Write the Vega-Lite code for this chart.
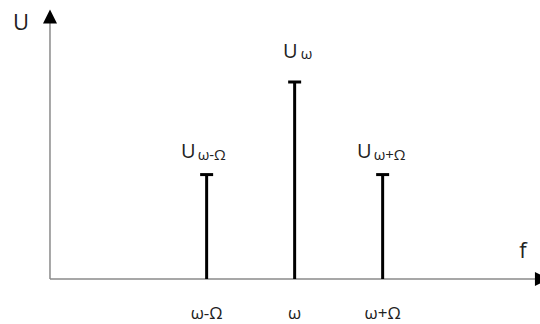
{
  "$schema": "https://vega.github.io/schema/vega-lite/v6.json",
  "width": 540,
  "height": 324,
  "autosize": "none",
  "padding": 0,
  "background": "white",
  "config": {"view": {"stroke": null}, "font": "Open Sans", "text": {"font": "Open Sans"}},
  "datasets": {
    "lines": [
      {"label": "ω-Ω", "sub": "ω-Ω", "f": 1.78, "U": 0.53},
      {"label": "ω", "sub": "ω", "f": 2.78, "U": 1.0},
      {"label": "ω+Ω", "sub": "ω+Ω", "f": 3.78, "U": 0.53}
    ],
    "axes": [
      {"axis": "U", "f0": 0, "U0": 0, "f1": 0, "U1": 1.332},
      {"axis": "f", "f0": 0, "U0": 0, "f1": 5.59, "U1": 0}
    ]
  },
  "encoding": {
    "x": {"type": "quantitative", "scale": {"domain": [-0.568, 5.568], "nice": false, "zero": false}, "axis": null},
    "y": {"type": "quantitative", "scale": {"domain": [-0.2284, 1.4162], "nice": false, "zero": false}, "axis": null}
  },
  "layer": [
    {
      "data": {"name": "axes"},
      "mark": {"type": "rule", "color": "#8a8a8a", "strokeWidth": 1.5},
      "encoding": {
        "x": {"field": "f0", "type": "quantitative"},
        "y": {"field": "U0", "type": "quantitative"},
        "x2": {"field": "f1"},
        "y2": {"field": "U1"}
      }
    },
    {
      "data": {"name": "axes"},
      "mark": {"type": "point", "filled": true, "color": "black", "opacity": 1, "size": 196},
      "encoding": {
        "x": {"field": "f1", "type": "quantitative"},
        "y": {"field": "U1", "type": "quantitative"},
        "shape": {"field": "axis", "type": "nominal", "scale": {"domain": ["U", "f"], "range": ["M-1,1L0,-1L1,1Z", "M-1,-1L1,0L-1,1Z"]}, "legend": null}
      }
    },
    {
      "data": {"name": "axes"},
      "transform": [{"filter": "datum.axis === 'U'"}],
      "mark": {"type": "text", "fontSize": 22, "align": "center", "baseline": "alphabetic", "dx": -29, "dy": 13, "color": "#222"},
      "encoding": {
        "x": {"field": "f1", "type": "quantitative"},
        "y": {"field": "U1", "type": "quantitative"},
        "text": {"field": "axis"}
      }
    },
    {
      "data": {"name": "axes"},
      "transform": [{"filter": "datum.axis === 'f'"}],
      "mark": {"type": "text", "fontSize": 22, "align": "center", "baseline": "alphabetic", "dx": -19, "dy": -21, "color": "#222"},
      "encoding": {
        "x": {"field": "f1", "type": "quantitative"},
        "y": {"field": "U1", "type": "quantitative"},
        "text": {"field": "axis"}
      }
    },
    {
      "data": {"name": "lines"},
      "mark": {"type": "rule", "color": "black", "strokeWidth": 3},
      "encoding": {
        "x": {"field": "f", "type": "quantitative"},
        "y": {"field": "U", "type": "quantitative"},
        "y2": {"datum": 0}
      }
    },
    {
      "data": {"name": "lines"},
      "mark": {"type": "tick", "orient": "horizontal", "color": "black", "size": 13, "thickness": 3, "opacity": 1},
      "encoding": {
        "x": {"field": "f", "type": "quantitative"},
        "y": {"field": "U", "type": "quantitative"}
      }
    },
    {
      "data": {"name": "lines"},
      "transform": [{"filter": "datum.label !== 'ω'"}],
      "mark": {"type": "text", "text": "U", "fontSize": 20, "align": "right", "baseline": "alphabetic", "dx": -11, "dy": -17, "color": "#222"},
      "encoding": {
        "x": {"field": "f", "type": "quantitative"},
        "y": {"field": "U", "type": "quantitative"}
      }
    },
    {
      "data": {"name": "lines"},
      "transform": [{"filter": "datum.label !== 'ω'"}],
      "mark": {"type": "text", "fontSize": 15, "align": "left", "baseline": "alphabetic", "dx": -9, "dy": -15, "color": "#222"},
      "encoding": {
        "x": {"field": "f", "type": "quantitative"},
        "y": {"field": "U", "type": "quantitative"},
        "text": {"field": "sub"}
      }
    },
    {
      "data": {"name": "lines"},
      "transform": [{"filter": "datum.label === 'ω'"}],
      "mark": {"type": "text", "text": "U", "fontSize": 20, "align": "right", "baseline": "alphabetic", "dx": 3, "dy": -24, "color": "#222"},
      "encoding": {
        "x": {"field": "f", "type": "quantitative"},
        "y": {"field": "U", "type": "quantitative"}
      }
    },
    {
      "data": {"name": "lines"},
      "transform": [{"filter": "datum.label === 'ω'"}],
      "mark": {"type": "text", "fontSize": 15, "align": "left", "baseline": "alphabetic", "dx": 6, "dy": -23, "color": "#222"},
      "encoding": {
        "x": {"field": "f", "type": "quantitative"},
        "y": {"field": "U", "type": "quantitative"},
        "text": {"field": "sub"}
      }
    },
    {
      "data": {"name": "lines"},
      "mark": {"type": "text", "fontSize": 17, "align": "center", "baseline": "alphabetic", "dy": 40, "color": "#222"},
      "encoding": {
        "x": {"field": "f", "type": "quantitative"},
        "y": {"datum": 0},
        "text": {"field": "label"}
      }
    }
  ]
}
